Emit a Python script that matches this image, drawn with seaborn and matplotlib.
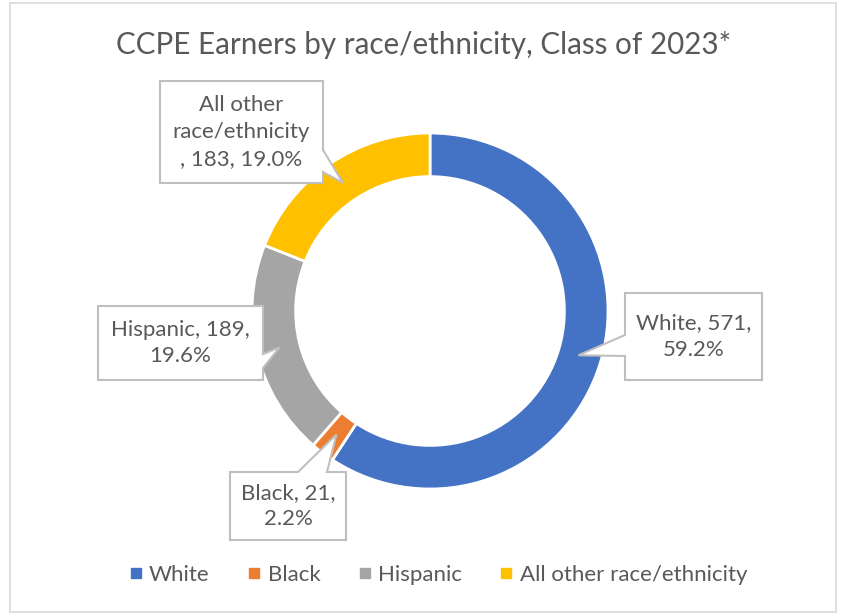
import numpy as np
import matplotlib
matplotlib.use("Agg")
import matplotlib.pyplot as plt
import seaborn as sns
from matplotlib.patches import Polygon, Rectangle
from matplotlib.lines import Line2D

categories = ["White", "Black", "Hispanic", "All other race/ethnicity"]
counts = [571, 21, 189, 183]
percents = [59.2, 2.2, 19.6, 19.0]
label_texts = ["White, 571,\n59.2%", "Black, 21,\n2.2%", "Hispanic, 189,\n19.6%",
               "All other\nrace/ethnicity\n, 183, 19.0%"]
colors = ["#4472C4", "#ED7D31", "#A5A5A5", "#FFC000"]
title = "CCPE Earners by race/ethnicity, Class of 2023*"

sns.set_theme(style="white")
plt.rcParams['font.family'] = ['Lato', 'DejaVu Sans']
TXT = "#595959"

W, H = 846, 616
fig = plt.figure(figsize=(W / 100, H / 100), dpi=100)

def fx(x):
    return x / W

def fy(y):
    return 1 - y / H

# outer border
fig.add_artist(Rectangle((fx(10), fy(612)), fx(826), (612 - 3) / H, transform=fig.transFigure,
                         fill=False, edgecolor="#D9D9D9", linewidth=1.2))

cx, cy, R = 430, 311, 178
ax = fig.add_axes([fx(cx - R), fy(cy + R), 2 * R / W, 2 * R / H])
wedges, _ = ax.pie(counts, colors=colors, startangle=90, counterclock=False,
                   wedgeprops=dict(width=0.245, edgecolor="white", linewidth=2))
ax.set_xlim(-1, 1)
ax.set_ylim(-1, 1)
ax.set_aspect("equal")
ax.axis("off")

fig.text(fx(424), fy(45), title, ha="center", va="center", fontsize=21.3, color=TXT)

# callout boxes: (L, R, T, B), pointer side, base positions
boxes = [
    ((625, 762, 293, 380), "left", (335, 356)),
    ((230, 346, 472, 540), "top", (298, 327)),
    ((98, 263, 306, 380), "right", (354, 368)),
    ((160, 323, 81, 183), "right", (150, 172)),
]

fig.canvas.draw()
for w, (box, side, base), txt in zip(wedges, boxes, label_texts):
    mid = np.deg2rad((w.theta1 + w.theta2) / 2)
    r_tip = 0.87
    tip_data = (r_tip * np.cos(mid), r_tip * np.sin(mid))
    tx, ty = fig.transFigure.inverted().transform(ax.transData.transform(tip_data))
    L, Rr, T, B = box
    if side == "left":
        pts = [(fx(L), fy(T)), (fx(Rr), fy(T)), (fx(Rr), fy(B)), (fx(L), fy(B)),
               (fx(L), fy(base[1])), (tx, ty), (fx(L), fy(base[0]))]
    elif side == "right":
        pts = [(fx(L), fy(T)), (fx(Rr), fy(T)), (fx(Rr), fy(base[0])), (tx, ty),
               (fx(Rr), fy(base[1])), (fx(Rr), fy(B)), (fx(L), fy(B))]
    else:  # top
        pts = [(fx(L), fy(T)), (fx(base[0]), fy(T)), (tx, ty), (fx(base[1]), fy(T)),
               (fx(Rr), fy(T)), (fx(Rr), fy(B)), (fx(L), fy(B))]
    fig.add_artist(Polygon(pts, closed=True, transform=fig.transFigure,
                           facecolor="white", edgecolor="#BFBFBF", linewidth=1.5, zorder=5))
    fig.text(fx((L + Rr) / 2), fy((T + B) / 2), txt, ha="center", va="center",
             fontsize=16, color=TXT, linespacing=1.42, zorder=6)

handles = [Line2D([0], [0], marker="s", linestyle="", markersize=7,
                  markerfacecolor=c, markeredgecolor=c) for c in colors]
fig.legend(handles, categories, loc="center", bbox_to_anchor=(fx(436), fy(575)),
           ncol=4, frameon=False, fontsize=16, handletextpad=0.1, columnspacing=1.5,
           labelcolor=TXT, handlelength=1.0)

fig.savefig("out.png", dpi=100)
